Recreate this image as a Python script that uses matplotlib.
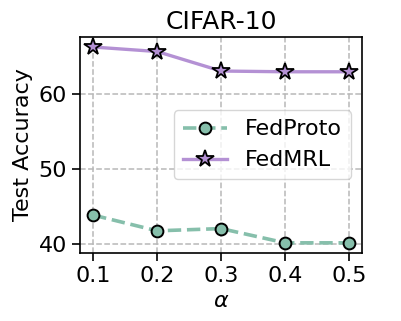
import matplotlib
matplotlib.use('Agg')
import matplotlib.pyplot as plt

alphas = [0.1, 0.2, 0.3, 0.4, 0.5]
fedproto = [43.9, 41.8, 42.1, 40.2, 40.2]
fedmrl = [66.3, 65.7, 63.1, 63.0, 63.0]

fig, ax = plt.subplots(figsize=(4.02, 3.21), dpi=100)
ax.plot(alphas, fedproto, linestyle='--', color='#86bfab', linewidth=2.6,
        marker='o', markersize=8.5, markeredgecolor='black', markeredgewidth=1.4,
        label='FedProto')
ax.plot(alphas, fedmrl, linestyle='-', color='#b491d4', linewidth=2.4,
        marker='*', markersize=13, markeredgecolor='black', markeredgewidth=1.3,
        label='FedMRL')

ax.grid(True, linestyle='--', color='#b8b8b8', linewidth=1.1)
ax.set_axisbelow(True)
ax.set_xticks(alphas)
ax.set_yticks([40, 50, 60])
ax.tick_params(labelsize=16, width=1.2, length=6)
for s in ax.spines.values():
    s.set_linewidth(1.2)
ax.set_xlabel(r'$\alpha$', fontsize=16)
ax.set_ylabel('Test Accuracy', fontsize=16)
ax.set_title('CIFAR-10', fontsize=18)
ax.legend(loc='center right', fontsize=16)

plt.subplots_adjust(left=0.2, right=0.9, top=0.884, bottom=0.213)
plt.savefig('out.png', dpi=100)
